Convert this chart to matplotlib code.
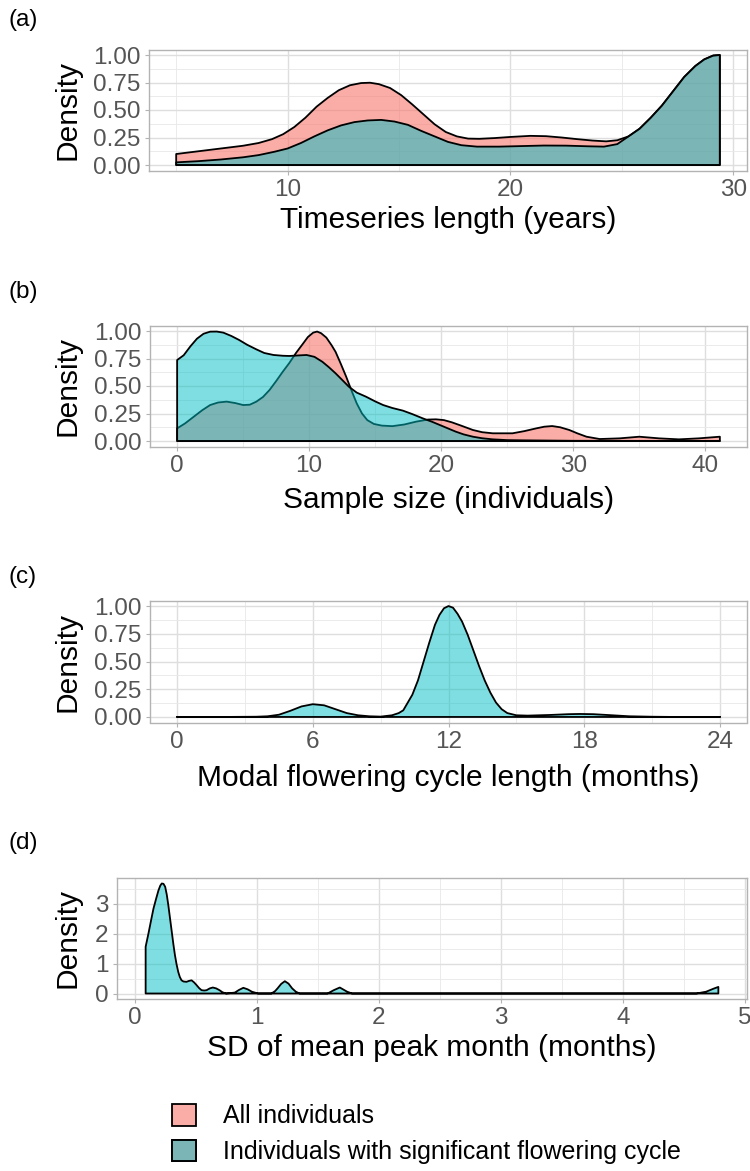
import numpy as np
import matplotlib
matplotlib.use("Agg")
import matplotlib.pyplot as plt
from matplotlib.patches import Patch

plt.rcParams['font.family'] = ['Liberation Sans', 'DejaVu Sans']

# colours (ggplot hue palette, semi transparent fills)
PINK = '#F8766D'
CYAN = '#00BFC4'
PINK_ALPHA = 0.6
CYAN_ALPHA = 0.5

# ---- data (scaled densities) ----
# (a) timeseries length
ts_all_x = [5.0, 6.0, 7.0, 8.0, 8.7, 9.3, 9.8, 10.3, 10.8, 11.3, 11.8, 12.3, 12.8, 13.3, 13.7, 14.1,
            14.6, 15.1, 15.6, 16.1, 16.6, 17.1, 17.6, 18.1, 18.6, 19.3, 20.0, 20.9, 21.6, 22.3, 23.0,
            23.7, 24.3, 24.8, 25.3, 25.8, 26.3, 26.8, 27.3, 27.8, 28.3, 28.7, 29.1, 29.4]
ts_all_y = [0.10, 0.125, 0.15, 0.175, 0.20, 0.235, 0.28, 0.345, 0.43, 0.53, 0.61, 0.68, 0.725, 0.745,
            0.748, 0.735, 0.70, 0.635, 0.55, 0.46, 0.37, 0.30, 0.26, 0.24, 0.238, 0.245, 0.255, 0.265,
            0.262, 0.25, 0.235, 0.222, 0.215, 0.225, 0.26, 0.33, 0.43, 0.54, 0.67, 0.80, 0.90, 0.96,
            0.995, 1.0]
ts_sig_x = [5.0, 6.0, 7.0, 8.0, 8.7, 9.4, 10.0, 10.6, 11.2, 11.8, 12.4, 13.0, 13.6, 14.2, 14.8, 15.4,
            16.0, 16.6, 17.2, 17.8, 18.5, 19.5, 20.5, 21.5, 22.5, 23.5, 24.2, 24.8, 25.3, 25.8, 26.3,
            26.8, 27.3, 27.8, 28.3, 28.7, 29.1, 29.4]
ts_sig_y = [0.024, 0.035, 0.05, 0.07, 0.09, 0.12, 0.15, 0.20, 0.26, 0.315, 0.36, 0.39, 0.405, 0.41,
            0.395, 0.365, 0.31, 0.26, 0.21, 0.18, 0.167, 0.167, 0.172, 0.177, 0.176, 0.17, 0.167, 0.19,
            0.26, 0.33, 0.43, 0.54, 0.67, 0.80, 0.90, 0.96, 0.995, 1.0]

# (b) sample size
ss_all_x = [0, 0.6, 1.25, 1.9, 2.5, 3.1, 3.75, 4.4, 5.0, 5.5, 6.0, 6.5, 7.0, 7.5, 8.0, 8.5, 9.0, 9.5,
            9.9, 10.3, 10.6, 10.9, 11.3, 11.7, 12.0, 12.4, 12.8, 13.2, 13.6, 14.0, 14.4, 14.9, 15.5,
            16.3, 17.2, 18.1, 19.0, 19.6, 20.2, 20.8, 21.5, 22.4, 23.1, 23.9, 25.4, 26.3, 27.2, 27.8,
            28.4, 29.0, 29.7, 30.3, 31.0, 32.0, 33.5, 35.0, 36.5, 38.0, 39.5, 41.1]
ss_all_y = [0.115, 0.16, 0.22, 0.28, 0.327, 0.35, 0.358, 0.345, 0.327, 0.33, 0.358, 0.40, 0.464, 0.545,
            0.63, 0.71, 0.80, 0.88, 0.945, 0.985, 0.995, 0.98, 0.94, 0.87, 0.81, 0.70, 0.585, 0.46,
            0.342, 0.25, 0.19, 0.155, 0.14, 0.135, 0.15, 0.176, 0.195, 0.197, 0.19, 0.17, 0.14, 0.10,
            0.08, 0.07, 0.07, 0.09, 0.115, 0.13, 0.136, 0.125, 0.10, 0.07, 0.039, 0.018, 0.024, 0.039,
            0.024, 0.015, 0.024, 0.039]
ss_sig_x = [0, 0.5, 1.0, 1.5, 2.0, 2.5, 3.0, 3.5, 4.1, 4.7, 5.3, 6.0, 6.6, 7.3, 8.0, 8.5, 9.2, 9.8,
            10.4, 11.0, 11.5, 12.0, 12.5, 13.0, 13.6, 14.3, 15.0, 15.6, 16.3, 17.1, 17.8, 18.6, 19.3,
            19.9, 20.5, 21.1, 21.7, 22.4, 23.1, 23.9, 25.0, 26.2, 30.0, 35.0, 41.1]
ss_sig_y = [0.736, 0.78, 0.86, 0.93, 0.975, 0.994, 0.995, 0.985, 0.955, 0.918, 0.875, 0.833, 0.80,
            0.782, 0.775, 0.773, 0.778, 0.782, 0.765, 0.72, 0.67, 0.615, 0.555, 0.494, 0.44, 0.403,
            0.36, 0.327, 0.30, 0.276, 0.245, 0.206, 0.175, 0.145, 0.115, 0.085, 0.06, 0.039, 0.025,
            0.015, 0.008, 0.006, 0.002, 0.001, 0.0]

# (c) modal flowering cycle length
cyc_x = [0, 2.0, 3.5, 4.0, 4.5, 5.0, 5.5, 6.0, 6.5, 7.0, 7.5, 8.0, 8.5, 9.0, 9.5, 9.8, 10.0, 10.4,
         10.65, 10.9, 11.15, 11.4, 11.6, 11.8, 12.0, 12.2, 12.4, 12.6, 12.85, 13.1, 13.35, 13.6, 13.85,
         14.1, 14.35, 14.6, 15.0, 15.5, 16.5, 17.3, 17.8, 18.4, 19.0, 20.0, 21.0, 22.0, 24.0]
cyc_y = [0, 0, 0.002, 0.006, 0.02, 0.055, 0.095, 0.115, 0.105, 0.07, 0.035, 0.015, 0.006, 0.003,
         0.015, 0.035, 0.06, 0.20, 0.33, 0.50, 0.67, 0.83, 0.92, 0.98, 1.0, 0.985, 0.93, 0.86, 0.74,
         0.60, 0.46, 0.33, 0.22, 0.13, 0.07, 0.035, 0.015, 0.012, 0.018, 0.025, 0.027, 0.025, 0.018,
         0.006, 0.002, 0, 0]

# (d) SD of mean peak month
sd_x = [0.09, 0.113, 0.135, 0.154, 0.175, 0.195, 0.21, 0.222, 0.236, 0.25, 0.263, 0.276, 0.29, 0.304,
        0.317, 0.33, 0.343, 0.357, 0.37, 0.384, 0.40, 0.425, 0.445, 0.466, 0.487, 0.507, 0.528, 0.548,
        0.57, 0.589, 0.615, 0.64, 0.668, 0.695, 0.72, 0.75, 0.82, 0.855, 0.89, 0.925, 0.96, 1.01,
        1.12, 1.15, 1.17, 1.20, 1.23, 1.26, 1.29, 1.32, 1.35, 1.58, 1.63, 1.68, 1.74, 1.78, 4.6,
        4.68, 4.74, 4.78]
sd_y = [1.56, 2.0, 2.45, 2.83, 3.15, 3.44, 3.6, 3.67, 3.66, 3.56, 3.3, 2.94, 2.5, 2.06, 1.65, 1.28,
        0.98, 0.72, 0.55, 0.44, 0.40, 0.39, 0.42, 0.44, 0.37, 0.28, 0.18, 0.11, 0.10, 0.11, 0.17, 0.20,
        0.17, 0.11, 0.04, 0.0, 0.03, 0.12, 0.19, 0.14, 0.06, 0.0, 0.0, 0.08, 0.17, 0.32, 0.41, 0.33,
        0.17, 0.06, 0.0, 0.0, 0.11, 0.20, 0.06, 0.0, 0.0, 0.06, 0.16, 0.22]

legend_labels = ['All individuals', 'Individuals with significant flowering cycle']

W, H = 750, 1171
TICK_FS = 17.5
TITLE_FS = 21.5


def box(l, t, r, b):
    return [l / W, 1 - b / H, (r - l) / W, (b - t) / H]


def density(ax, x, y, colour, alpha):
    """ ggplot-style geom_density polygon: outlined, closed down to the baseline """
    x = np.asarray(x, float)
    y = np.asarray(y, float)
    px = np.r_[x[0], x, x[-1]]
    py = np.r_[0, y, 0]
    rgba = matplotlib.colors.to_rgba(colour, alpha)
    ax.fill(px, py, facecolor=rgba, edgecolor='black', linewidth=1.3, joinstyle='round', zorder=3)


def style(ax, xs, ys, xmajor, xminor, ymajor, yminor, ylabels):
    # ggplot expands each axis by 5% of the data range
    xlo, xhi = min(xs), max(xs)
    ylo, yhi = min(ys), max(ys)
    ax.set_xlim(xlo - 0.05 * (xhi - xlo), xhi + 0.05 * (xhi - xlo))
    ax.set_ylim(ylo - 0.05 * (yhi - ylo), yhi + 0.05 * (yhi - ylo))
    ax.set_xticks(xmajor)
    ax.set_xticks(xminor, minor=True)
    ax.set_yticks(ymajor)
    ax.set_yticks(yminor, minor=True)
    ax.set_yticklabels(ylabels)
    ax.set_axisbelow(True)
    ax.grid(which='major', color='#DEDEDE', linewidth=1.0)
    ax.grid(which='minor', color='#E8E8E8', linewidth=0.6)
    for s in ax.spines.values():
        s.set_color('#B3B3B3')
        s.set_linewidth(1.0)
    ax.tick_params(which='major', length=3, width=0.8, color='#B3B3B3', labelcolor='#555555',
                   labelsize=TICK_FS, pad=3)
    ax.tick_params(which='minor', length=0)


def labels(fig, ax, rect, tag, tag_y, xlabel, xlab_y):
    l, t, r, b = rect
    ax.set_ylabel('Density', fontsize=TITLE_FS, va='center')
    ax.yaxis.set_label_coords((67 - l) / (r - l), 0.5)
    ax.set_xlabel(xlabel, fontsize=TITLE_FS, va='center')
    ax.xaxis.set_label_coords(0.5, (b - xlab_y) / (b - t))
    fig.text(8 / W, 1 - tag_y / H, tag, fontsize=TICK_FS, va='center', ha='left')


fig = plt.figure(figsize=(7.5, 11.71), dpi=100)

frac_lab = ['0.00', '0.25', '0.50', '0.75', '1.00']
frac_maj = [0, 0.25, 0.5, 0.75, 1.0]
frac_min = [0.125, 0.375, 0.625, 0.875]

# (a)
ra = (149, 49.5, 747, 170.5)
ax = fig.add_axes(box(*ra))
density(ax, ts_all_x, ts_all_y, PINK, PINK_ALPHA)
density(ax, ts_sig_x, ts_sig_y, CYAN, CYAN_ALPHA)
style(ax, ts_all_x + ts_sig_x, [0] + ts_all_y, [10, 20, 30], [5, 15, 25], frac_maj, frac_min, frac_lab)
labels(fig, ax, ra, '(a)', 20, 'Timeseries length (years)', 220)

# (b)
rb = (150, 325.5, 747, 446.5)
ax = fig.add_axes(box(*rb))
density(ax, ss_all_x, ss_all_y, PINK, PINK_ALPHA)
density(ax, ss_sig_x, ss_sig_y, CYAN, CYAN_ALPHA)
style(ax, ss_all_x + ss_sig_x, [0, 1.0], [0, 10, 20, 30, 40], [5, 15, 25, 35], frac_maj, frac_min, frac_lab)
labels(fig, ax, rb, '(b)', 292, 'Sample size (individuals)', 500)

# (c)
rc = (150, 600.5, 747, 722.5)
ax = fig.add_axes(box(*rc))
density(ax, cyc_x, cyc_y, CYAN, CYAN_ALPHA)
style(ax, cyc_x, [0] + cyc_y, [0, 6, 12, 18, 24], [3, 9, 15, 21], frac_maj, frac_min, frac_lab)
labels(fig, ax, rc, '(c)', 577, 'Modal flowering cycle length (months)', 778)

# (d)
rd = (117, 878, 747, 999)
ax = fig.add_axes(box(*rd))
density(ax, sd_x, sd_y, CYAN, CYAN_ALPHA)
style(ax, sd_x, [0] + sd_y, [0, 1, 2, 3, 4, 5], [0.5, 1.5, 2.5, 3.5, 4.5],
      [0, 1, 2, 3], [0.5, 1.5, 2.5, 3.5], ['0', '1', '2', '3'])
labels(fig, ax, rd, '(d)', 843, 'SD of mean peak month (months)', 1048)

# legend: the second key shows the cyan fill laid over the pink one
pink_key = Patch(facecolor=matplotlib.colors.to_rgba(PINK, PINK_ALPHA), edgecolor='black', linewidth=1.3)
cyan_key = Patch(facecolor=matplotlib.colors.to_rgba(CYAN, CYAN_ALPHA), edgecolor='black', linewidth=1.3)
fig.legend([pink_key, (pink_key, cyan_key)], legend_labels, loc='upper left',
           bbox_to_anchor=(172 / W, 1 - 1104 / H), frameon=False, fontsize=18,
           handlelength=0.95, handleheight=0.95, handletextpad=1.1, labelspacing=0.45,
           borderpad=0, borderaxespad=0)

fig.savefig('out.png', dpi=100)
